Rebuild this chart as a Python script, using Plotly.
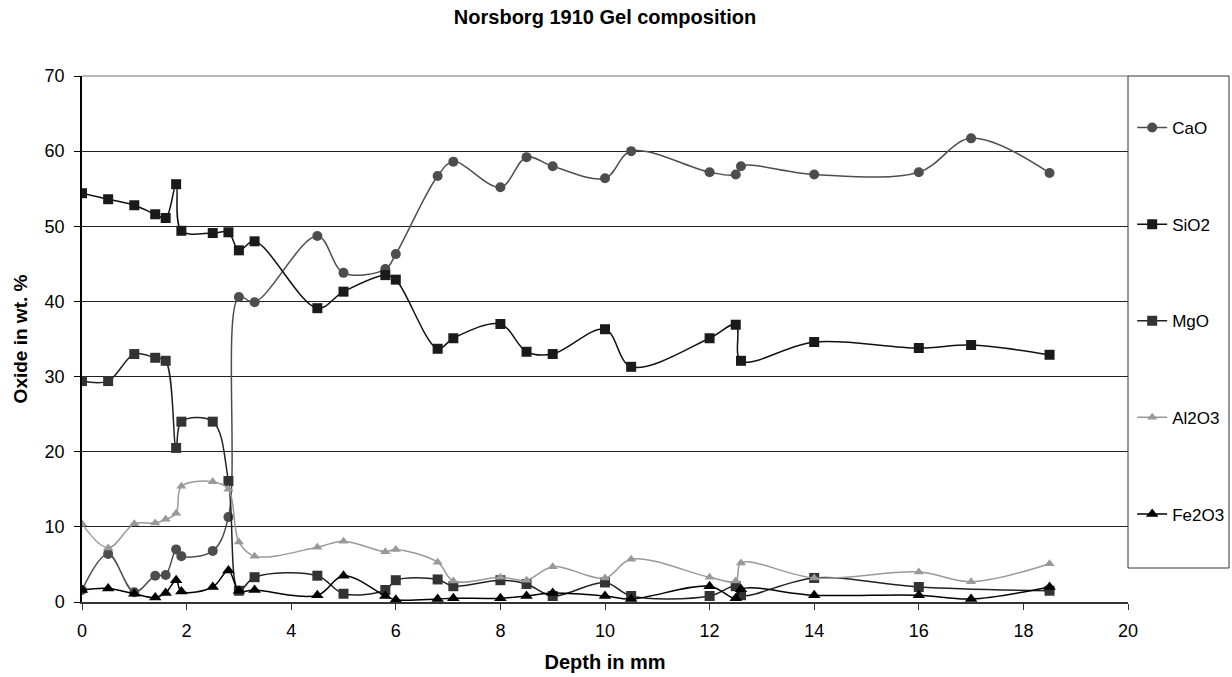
import plotly.graph_objects as go

# Depth (mm) of each measurement point
depth_cao = [0, 0.5, 1.0, 1.4, 1.6, 1.8, 1.9, 2.5, 2.8, 3.0, 3.3, 4.5, 5.0, 5.8, 6.0, 6.8, 7.1,
             8.0, 8.5, 9.0, 10.0, 10.5, 12.0, 12.5, 12.6, 14.0, 16.0, 17.0, 18.5]
cao = [1.6, 6.4, 1.3, 3.5, 3.6, 7.0, 6.1, 6.8, 11.3, 40.6, 39.9, 48.7, 43.8, 44.3, 46.3, 56.7, 58.6,
       55.2, 59.2, 58.0, 56.4, 60.0, 57.2, 56.9, 58.0, 56.9, 57.2, 61.7, 57.1]

depth_sio2 = depth_cao
sio2 = [54.4, 53.6, 52.8, 51.6, 51.1, 55.6, 49.4, 49.1, 49.2, 46.8, 48.0, 39.1, 41.3, 43.5, 42.9, 33.7, 35.1,
        37.0, 33.3, 33.0, 36.3, 31.3, 35.1, 36.9, 32.1, 34.6, 33.8, 34.2, 32.9]

depth_mgo = [0, 0.5, 1.0, 1.4, 1.6, 1.8, 1.9, 2.5, 2.8, 3.0, 3.3, 4.5, 5.0, 5.8, 6.0, 6.8, 7.1,
             8.0, 8.5, 9.0, 10.0, 10.5, 12.0, 12.5, 12.6, 14.0, 16.0, 18.5]
mgo = [29.4, 29.4, 33.0, 32.5, 32.1, 20.5, 24.0, 24.0, 16.1, 1.5, 3.3, 3.5, 1.1, 1.6, 2.9, 3.0, 2.1,
       2.9, 2.4, 0.8, 2.6, 0.8, 0.8, 2.1, 0.9, 3.2, 2.0, 1.5]

depth_al2o3 = depth_cao
al2o3 = [10.4, 7.2, 10.4, 10.5, 11.0, 11.8, 15.4, 16.0, 15.0, 8.0, 6.1, 7.3, 8.1, 6.7, 7.0, 5.3, 2.8,
         3.3, 2.9, 4.7, 3.2, 5.7, 3.3, 2.8, 5.2, 3.2, 4.0, 2.7, 5.1]

depth_fe2o3 = depth_cao
fe2o3 = [1.6, 1.8, 1.1, 0.6, 1.2, 2.9, 1.4, 2.0, 4.2, 1.5, 1.6, 0.9, 3.5, 0.8, 0.3, 0.4, 0.5,
         0.5, 0.8, 1.2, 0.8, 0.4, 2.1, 0.5, 1.7, 0.9, 0.9, 0.4, 2.0]

x_ticks = [0, 2, 4, 6, 8, 10, 12, 14, 16, 18, 20]
y_ticks = [0, 10, 20, 30, 40, 50, 60, 70]

FONT = "Liberation Sans, Arial, sans-serif"

series = [
    ("CaO", depth_cao, cao, "#4d4d4d", "#4d4d4d", "circle", 10),
    ("SiO2", depth_sio2, sio2, "#111111", "#1a1a1a", "square", 10),
    ("MgO", depth_mgo, mgo, "#222222", "#333333", "square", 10),
    ("Al2O3", depth_al2o3, al2o3, "#999999", "#999999", "triangle-up", 9),
    ("Fe2O3", depth_fe2o3, fe2o3, "#000000", "#000000", "triangle-up", 11),
]

fig = go.Figure()
for name, xs, ys, lcol, mcol, sym, size in series:
    fig.add_trace(go.Scatter(
        x=xs, y=ys, name=name, legendgroup=name,
        mode="lines+markers",
        line=dict(color=lcol, width=1.5, shape="spline", smoothing=1.0),
        marker=dict(color=mcol, symbol=sym, size=size, line=dict(width=0)),
    ))

fig.update_layout(
    width=1232, height=677,
    margin=dict(l=82, r=104, t=76, b=75, autoexpand=False),
    paper_bgcolor="white", plot_bgcolor="white",
    font=dict(family=FONT, size=18, color="black"),
    title=dict(text="<b>Norsborg 1910 Gel composition</b>", x=(82 + 1128) / 2 / 1232, xanchor="center",
               y=1 - 17 / 677, yanchor="middle", font=dict(size=20, family=FONT)),
    showlegend=True,
    legend=dict(
        x=1.004, xanchor="left", y=1 - (110 - 76) / 526, yanchor="top",
        bgcolor="rgba(0,0,0,0)", borderwidth=0,
        tracegroupgap=71.5, font=dict(size=17, family=FONT),
        itemwidth=30,
    ),
    xaxis=dict(
        range=[0, 20], tickvals=x_ticks, ticktext=[str(v) for v in x_ticks],
        showgrid=False, zeroline=False, showline=True, linecolor="#333333", linewidth=1.5,
        ticks="outside", ticklen=6, tickcolor="#333333", tickfont=dict(size=18),
        ticklabelstandoff=6,
        title=dict(text="<b>Depth in mm</b>", font=dict(size=20), standoff=15),
    ),
    yaxis=dict(
        range=[0, 70], tickvals=y_ticks, ticktext=[str(v) for v in y_ticks],
        showgrid=True, gridcolor="#222222", gridwidth=1,
        zeroline=False, showline=True, linecolor="#000000", linewidth=1.5,
        ticks="outside", ticklen=6, tickcolor="#000000", tickfont=dict(size=18),
        ticklabelstandoff=6,
        title=dict(text="<b>Oxide in wt. %</b>", font=dict(size=19), standoff=12),
    ),
    shapes=[
        # top border of the plotting area
        dict(type="line", xref="paper", yref="paper", x0=0, x1=1, y0=1, y1=1,
             line=dict(color="#a0a0a0", width=1.5), layer="below"),
        # legend frame
        dict(type="rect", xref="paper", yref="paper", x0=1.0, x1=(1229 - 82) / 1046,
             y0=(602 - 568) / 526, y1=1, line=dict(color="#333333", width=1), layer="above"),
    ],
)

fig.write_html("out.html")
